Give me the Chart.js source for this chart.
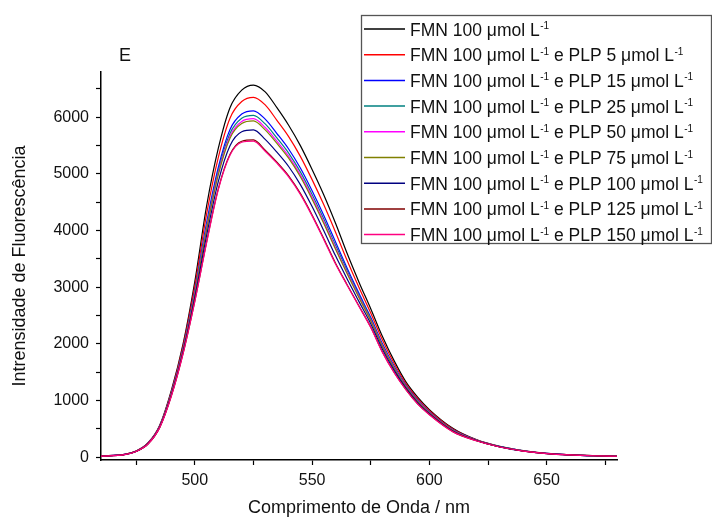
<!DOCTYPE html>
<html lang="pt">
<head>
    <meta charset="UTF-8">
    <title>Espectro de fluorescência - FMN e PLP</title>
    <script src="https://cdn.jsdelivr.net/npm/chart.js"></script>
    <style>
        body {
            margin: 0;
            background: #ffffff;
        }
        #wrap {
            width: 712px;
            height: 520px;
        }
    </style>
</head>
<body>
    <div id="wrap">
        <canvas id="fluorChart" width="712" height="520"></canvas>
    </div>
    <script>
        // Comprimento de onda (nm)
        const wavelengths = [460, 470, 475, 480, 485, 490, 495, 500, 505, 510, 515, 520, 525, 530, 535, 540, 545, 550, 555, 560, 565, 570, 575, 580, 585, 590, 595, 600, 610, 620, 630, 640, 650, 660, 670, 680];

        // Intensidade de fluorescência, uma lista por amostra
        const fmn100 = [20, 50, 110, 250, 560, 1180, 2000, 3100, 4430, 5450, 6170, 6480, 6570, 6450, 6170, 5860, 5500, 5080, 4630, 4130, 3590, 3090, 2620, 2130, 1700, 1330, 1060, 840, 510, 310, 190, 115, 68, 42, 27, 18];
        const plp5 = [20, 49, 108, 246, 551, 1158, 1963, 3023, 4287, 5289, 5985, 6278, 6352, 6219, 5947, 5660, 5311, 4900, 4456, 3972, 3467, 2995, 2547, 2068, 1654, 1299, 1034, 820, 497, 306, 188, 113, 67, 41, 27, 18];
        const plp15 = [19, 48, 105, 241, 542, 1134, 1922, 2939, 4131, 5114, 5784, 6057, 6115, 5967, 5714, 5441, 5104, 4703, 4267, 3799, 3332, 2892, 2468, 2001, 1603, 1266, 1005, 799, 482, 301, 185, 112, 66, 41, 26, 17];
        const plp25 = [19, 47, 105, 239, 538, 1126, 1908, 2911, 4079, 5056, 5716, 5983, 6035, 5883, 5636, 5369, 5036, 4637, 4203, 3741, 3288, 2858, 2442, 1979, 1587, 1254, 995, 791, 478, 299, 185, 111, 65, 40, 26, 17];
        const plp50 = [19, 47, 104, 238, 536, 1120, 1898, 2890, 4040, 5012, 5666, 5928, 5976, 5820, 5578, 5314, 4984, 4588, 4156, 3698, 3254, 2832, 2422, 1962, 1574, 1246, 988, 786, 474, 298, 184, 111, 65, 40, 26, 17];
        const plp75 = [19, 47, 104, 237, 534, 1116, 1891, 2876, 4014, 4983, 5632, 5891, 5936, 5778, 5539, 5278, 4950, 4555, 4124, 3669, 3232, 2815, 2409, 1951, 1566, 1240, 983, 782, 472, 297, 184, 111, 65, 40, 26, 17];
        const plp100 = [18, 46, 102, 234, 528, 1100, 1864, 2820, 3910, 4866, 5498, 5744, 5778, 5610, 5384, 5132, 4812, 4424, 3998, 3554, 3142, 2746, 2356, 1906, 1532, 1218, 964, 768, 462, 294, 182, 109, 64, 40, 25, 16];
        const plp125 = [18, 45, 100, 230, 521, 1082, 1833, 2757, 3793, 4735, 5347, 5578, 5600, 5421, 5209, 4968, 4657, 4276, 3856, 3424, 3041, 2669, 2297, 1856, 1494, 1193, 942, 752, 451, 290, 180, 108, 63, 39, 25, 16];
        const plp150 = [18, 45, 100, 230, 520, 1080, 1830, 2750, 3780, 4720, 5330, 5560, 5580, 5400, 5190, 4950, 4640, 4260, 3840, 3410, 3030, 2660, 2290, 1850, 1490, 1190, 940, 750, 450, 290, 180, 108, 63, 39, 25, 16];

        // Concentração de PLP (null = só FMN)
        const plpLevels = [null, 5, 15, 25, 50, 75, 100, 125, 150];
        const seriesValues = [fmn100, plp5, plp15, plp25, plp50, plp75, plp100, plp125, plp150];
        const colors = ['#000000', '#FF0000', '#0000FF', '#008080', '#FF00FF', '#808000', '#000080', '#800000', '#FF0080'];

        // ticks (major ones get a label)
        const xTicks = [475, 500, 525, 550, 575, 600, 625, 650, 675];
        const xTickLabels = [500, 550, 600, 650];
        const yTicks = [0, 500, 1000, 1500, 2000, 2500, 3000, 3500, 4000, 4500, 5000, 5500, 6000, 6500];
        const yTickLabels = [0, 1000, 2000, 3000, 4000, 5000, 6000];

        const FONT = "'Liberation Sans', Arial, sans-serif";

        const datasets = seriesValues.map((vals, i) => ({
            label: plpLevels[i] === null ? 'FMN 100 μmol L-1' : 'FMN 100 μmol L-1 e PLP ' + plpLevels[i] + ' μmol L-1',
            data: wavelengths.map((w, k) => ({ x: w, y: vals[k] })),
            borderColor: colors[i],
            borderWidth: 1.2,
            pointRadius: 0,
            cubicInterpolationMode: 'monotone',
            order: seriesValues.length - i  // last one on top, like the original
        }));

        // legend with superscripts + panel letter
        const legendBox = {
            id: 'legendBox',
            afterDraw(chart) {
                const ctx = chart.ctx;
                ctx.save();
                ctx.strokeStyle = '#555555';
                ctx.lineWidth = 1.3;
                ctx.strokeRect(361.5, 15.5, 350, 228);

                plpLevels.forEach((lvl, i) => {
                    const y = 29 + i * 25.7;
                    ctx.strokeStyle = colors[i];
                    ctx.lineWidth = 1.5;
                    ctx.beginPath();
                    ctx.moveTo(364, y);
                    ctx.lineTo(405, y);
                    ctx.stroke();

                    const parts = [['FMN 100 μmol L', false], ['-1', true]];
                    if (lvl !== null) {
                        parts.push([' e PLP ' + lvl + ' μmol L', false], ['-1', true]);
                    }
                    let x = 410;
                    const base = y + 6.5;
                    ctx.fillStyle = '#111111';
                    ctx.textBaseline = 'alphabetic';
                    ctx.textAlign = 'left';
                    parts.forEach(([txt, sup]) => {
                        ctx.font = (sup ? '10px ' : '17.5px ') + FONT;
                        if (sup) x += 0.5;
                        ctx.fillText(txt, x, sup ? base - 6.5 : base);
                        x += ctx.measureText(txt).width;
                    });
                });

                ctx.font = '18px ' + FONT;
                ctx.fillStyle = '#111111';
                ctx.fillText('E', 119, 61);
                ctx.restore();
            }
        };

        new Chart(document.getElementById('fluorChart'), {
            type: 'line',
            data: { datasets: datasets },
            options: {
                responsive: false,
                animation: false,
                events: [],
                layout: { padding: { left: 0, right: 95, top: 72, bottom: 0 } },
                plugins: {
                    legend: { display: false },
                    tooltip: { enabled: false }
                },
                scales: {
                    x: {
                        type: 'linear',
                        min: 460,
                        max: 680,
                        afterFit: s => { s.height = 60; },
                        afterBuildTicks: s => { s.ticks = xTicks.map(v => ({ value: v })); },
                        border: { display: true, color: '#000000', width: 1.5 },
                        grid: { drawOnChartArea: false, drawTicks: true, tickLength: 5, tickColor: '#000000', tickWidth: 1.2 },
                        ticks: {
                            autoSkip: false,
                            maxRotation: 0,
                            padding: 6,
                            color: '#111111',
                            font: { family: FONT, size: 16 },
                            callback: v => (xTickLabels.includes(v) ? String(v) : '')
                        },
                        title: {
                            display: true,
                            text: 'Comprimento de Onda / nm',
                            color: '#111111',
                            font: { family: FONT, size: 18 },
                            padding: { top: 0, bottom: 1 }
                        }
                    },
                    y: {
                        type: 'linear',
                        min: -50,
                        max: 6800,
                        afterFit: s => { s.width = 101; },
                        afterBuildTicks: s => { s.ticks = yTicks.map(v => ({ value: v })); },
                        border: { display: true, color: '#000000', width: 1.5 },
                        grid: { drawOnChartArea: false, drawTicks: true, tickLength: 5, tickColor: '#000000', tickWidth: 1.2 },
                        ticks: {
                            autoSkip: false,
                            padding: 7,
                            color: '#111111',
                            font: { family: FONT, size: 16 },
                            callback: v => (yTickLabels.includes(v) ? String(v) : '')
                        },
                        title: {
                            display: true,
                            text: 'Intrensidade de Fluorescência',
                            color: '#111111',
                            font: { family: FONT, size: 18 },
                            padding: { top: 9, bottom: 0 }
                        }
                    }
                }
            },
            plugins: [legendBox]
        });
    </script>
</body>
</html>
